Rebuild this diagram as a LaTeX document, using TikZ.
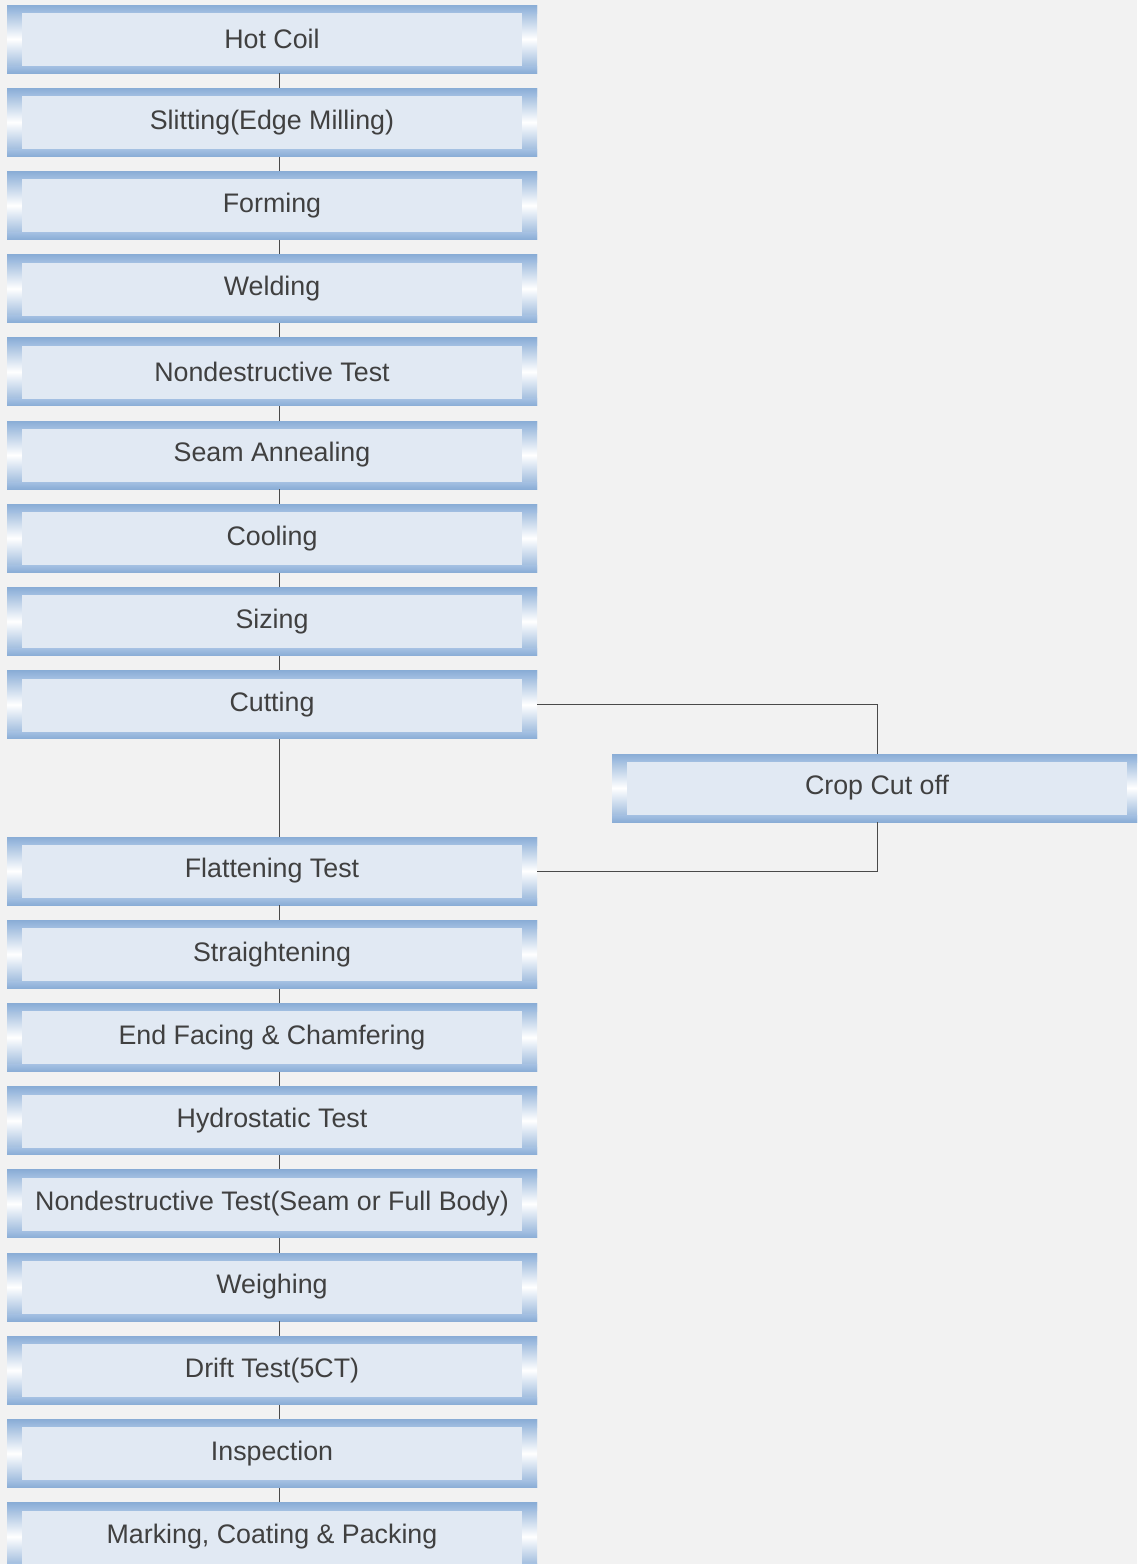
\documentclass[tikz,border=0pt]{standalone}
\usepackage{fontspec}
\setmainfont{Liberation Sans}
\usetikzlibrary{positioning}
\definecolor{bggray}{HTML}{F2F2F2}
\definecolor{frameblue}{HTML}{8AADD6}
\definecolor{framelight}{HTML}{A4C0E2}
\definecolor{innerfill}{HTML}{E1E9F3}
\definecolor{textgray}{HTML}{404040}
\definecolor{linegray}{HTML}{4A4A4A}
\tikzset{
  stepbox/.style={minimum width=265pt, minimum height=34pt, inner sep=0pt,
    text=textgray, font=\fontsize{13.4}{15}\selectfont,
    path picture={
      % Rahmen: Seiten mit heller Mitte
      \shade[top color=frameblue, bottom color=frameblue, middle color=white]
        (path picture bounding box.south west) rectangle (path picture bounding box.north east);
      % Rahmen oben und unten
      \shade[top color=frameblue, bottom color=framelight]
        (path picture bounding box.north west) rectangle ([yshift=-4pt]path picture bounding box.north east);
      \shade[top color=framelight, bottom color=frameblue]
        ([yshift=3.5pt]path picture bounding box.south west) rectangle (path picture bounding box.south east);
      % Innenfläche
      \fill[innerfill] ([xshift=7.5pt,yshift=3.5pt]path picture bounding box.south west)
        rectangle ([xshift=-7.5pt,yshift=-4pt]path picture bounding box.north east);
    }},
  link/.style={draw=linegray, line width=0.5pt}
}
\begin{document}
\begin{tikzpicture}[x=0.5pt, y=-0.5pt]
      % Hintergrund
      \fill[bggray] (0,0) rectangle (1137,1564);
      \useasboundingbox (0,0) rectangle (1137,1564);
      \clip (0,0) rectangle (1137,1564);

      % Arbeitsschritte
      \foreach \nm/\txt/\r in {hot/Hot Coil/0, slit/Slitting(Edge Milling)/1, form/Forming/2,
          weld/Welding/3, ndt/Nondestructive Test/4, seam/Seam Annealing/5, cool/Cooling/6,
          size/Sizing/7, cut/Cutting/8, flat/Flattening Test/10, straight/Straightening/11,
          face/End Facing \& Chamfering/12, hydro/Hydrostatic Test/13,
          ndtb/Nondestructive Test(Seam or Full Body)/14, weigh/Weighing/15,
          drift/Drift Test(5CT)/16, insp/Inspection/17, {mark/Marking, Coating \& Packing/18}}
        \node[stepbox] (\nm) at (272,{39+83.2*\r}) {\txt};

      \node[stepbox] (crop) at (877,788) {Crop Cut off};

      % Verbindungen
      \foreach \a/\b in {hot/slit, slit/form, form/weld, weld/ndt, ndt/seam, seam/cool,
          cool/size, size/cut, cut/flat, flat/straight, straight/face, face/hydro,
          hydro/ndtb, ndtb/weigh, weigh/drift, drift/insp, insp/mark}
        \draw[link] ([xshift=3.5pt]\a.south) -- ([xshift=3.5pt]\b.north);

      \draw[link] (cut.east) -| (crop.north);
      \draw[link] (flat.east) -| (crop.south);
\end{tikzpicture}
\end{document}
